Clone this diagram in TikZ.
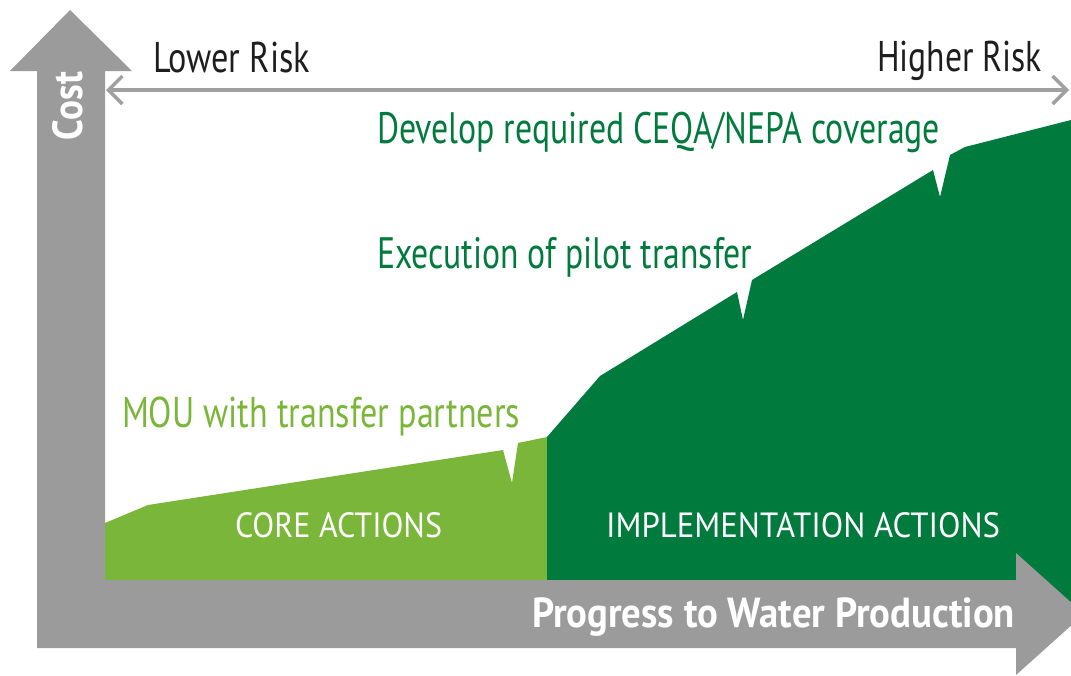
\documentclass[tikz,border=0pt]{standalone}
\usepackage{fontspec}
\setmainfont{PT Sans}
\usepackage{graphicx}
\usetikzlibrary{arrows.meta}
\definecolor{axisgray}{RGB}{155,155,155}
\definecolor{lightgreen}{RGB}{122,182,57}
\definecolor{darkgreen}{RGB}{0,122,61}
\definecolor{riskgray}{RGB}{160,160,160}
\definecolor{textblack}{RGB}{30,30,30}
\newcommand{\fitw}[3]{\resizebox{#1pt}{\height}{\fontsize{#2}{#2}\selectfont #3}}
\tikzset{
  lbl/.style={inner sep=0pt, outer sep=0pt, anchor=base west},
  riskarrow/.style={draw=riskgray, line width=3.5pt,
    {Straight Barb[length=14pt,width=28pt]}-{Straight Barb[length=14pt,width=28pt]}}
}
\begin{document}
\begin{tikzpicture}[x=1pt,y=-1pt]
\useasboundingbox (0,0) rectangle (1071,675);
\clip (0,0) rectangle (1071,675);
% core actions area
\fill[lightgreen] (105,523) -- (148,505) -- (503,450) -- (512,483) -- (518,443)
  -- (547,437) -- (547,600) -- (105,600) -- cycle;
% implementation actions area
\fill[darkgreen] (547,437) -- (600,376) -- (737,292) -- (743,320) -- (752,280)
  -- (933,170) -- (940,197) -- (950,155) -- (965,147) -- (1071,120)
  -- (1071,610) -- (547,610) -- cycle;
% axes
\fill[axisgray] (37,648) -- (37,71) -- (10,71) -- (70,10) -- (132,71) -- (105,71)
  -- (105,580) -- (1016,580) -- (1016,553) -- (1084,614) -- (1016,675)
  -- (1016,648) -- cycle;
% texts
\node[lbl, text=textblack] (lower) at (153,72) {\fitw{157}{43}{Lower Risk}};
\node[lbl, text=textblack] (higher) at (877,71) {\fitw{165}{43}{Higher Risk}};
\node[lbl, text=darkgreen] (ceqa) at (377,143) {\fitw{563}{44}{Develop required CEQA/NEPA coverage}};
\node[lbl, text=darkgreen] (pilot) at (377,268) {\fitw{375}{44}{Execution of pilot transfer}};
\node[lbl, text=lightgreen] (mou) at (122,427) {\fitw{398}{43}{MOU with transfer partners}};
\node[lbl, text=white] (core) at (235,537) {\fitw{207}{35}{CORE ACTIONS}};
\node[lbl, text=white] (impl) at (606,537) {\fitw{394}{35}{IMPLEMENTATION ACTIONS}};
\node[lbl, text=white] (prog) at (532,627) {\fitw{483}{42}{\bfseries Progress to Water Production}};
\node[lbl, text=white, rotate=90] (cost) at (82,140) {\fitw{68}{42}{\bfseries Cost}};
% risk arrow
\coordinate (rl) at (106,90);
\coordinate (rr) at (1069,90);
\draw[riskarrow] (rl) -- (rr);
\end{tikzpicture}
\end{document}
